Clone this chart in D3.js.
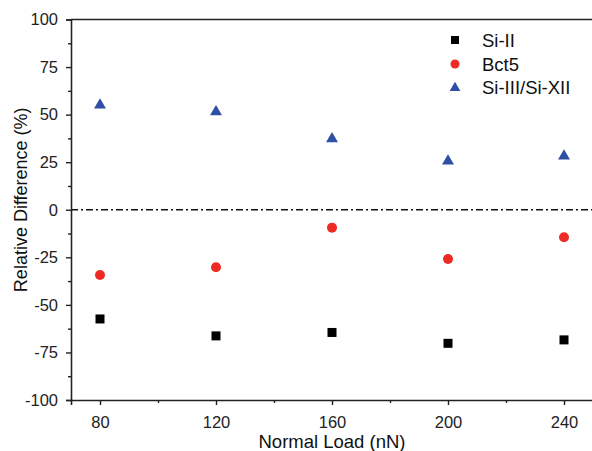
<!DOCTYPE html>
<html><head><meta charset="utf-8">
<script src="https://cdn.jsdelivr.net/npm/d3@7"></script>
<style>body{margin:0;background:#fff;}svg{display:block;font-family:"Liberation Sans",Arial,sans-serif;}</style>
</head><body>
<svg id="c" width="592" height="451"></svg>
<script>
const loads = [80, 120, 160, 200, 240];
const siII = [-57.4, -66.3, -64.5, -70.2, -68.4];
const bct5 = [-34.3, -30.2, -9.4, -25.9, -14.5];
const siIII = [55.5, 52.0, 37.8, 26.1, 28.7];
const xTicks = [80, 120, 160, 200, 240];
const yTicks = [-100, -75, -50, -25, 0, 25, 50, 75, 100];
const seriesNames = ["Si-II", "Bct5", "Si-III/Si-XII"];

const svg = d3.select("#c");
const x = d3.scaleLinear().domain([70, 250]).range([71, 593]);
const y = d3.scaleLinear().domain([-100, 100]).range([400, 19.5]);
const axisColor = "#222";
const fmt = (d) => String(d);

// zero line
svg.append("line").attr("x1", x(70)).attr("x2", x(250)).attr("y1", y(0)).attr("y2", y(0))
  .attr("stroke", "#111").attr("stroke-width", 1.4).attr("stroke-dasharray", "7,3,2,3");

// x axis
svg.append("g").attr("transform", `translate(0,${y(-100)})`)
  .call(d3.axisBottom(x).tickValues(xTicks).tickSize(5).tickPadding(11).tickFormat(fmt));
svg.append("g").attr("transform", `translate(0,${y(-100)})`)
  .call(d3.axisBottom(x).tickValues([100, 140, 180, 220]).tickSize(3).tickFormat(""))
  .select(".domain").remove();
// top line
svg.append("line").attr("x1", x(70)).attr("x2", x(250)).attr("y1", y(100)).attr("y2", y(100))
  .attr("stroke", axisColor).attr("stroke-width", 1.6);

// y axis
svg.append("g").attr("transform", `translate(${x(70)},0)`)
  .call(d3.axisLeft(y).tickValues(yTicks).tickSize(5).tickPadding(8).tickFormat(fmt));
svg.append("g").attr("transform", `translate(${x(70)},0)`)
  .call(d3.axisLeft(y).tickValues(d3.range(-87.5, 100, 25)).tickSize(3).tickFormat(""))
  .select(".domain").remove();

svg.selectAll(".domain").attr("stroke", axisColor).attr("stroke-width", 1.6);
svg.selectAll(".tick line").attr("stroke", axisColor).attr("stroke-width", 1.4);
svg.selectAll(".tick text").attr("font-size", 16.5).attr("fill", "#222")
  .attr("font-family", "'Liberation Sans',Arial,sans-serif");

// titles
svg.append("text").attr("x", x(160)).attr("y", 448).attr("text-anchor", "middle")
  .attr("font-size", 18.5).attr("fill", "#111").text("Normal Load (nN)");
svg.append("text").attr("transform", `translate(27,${y(0) - 10}) rotate(-90)`).attr("text-anchor", "middle")
  .attr("font-size", 18).attr("fill", "#111").text("Relative Difference (%)");

// markers
const tri = d3.symbol().type(d3.symbolTriangle).size(62);
svg.append("g").selectAll("rect").data(loads).join("rect")
  .attr("x", (d) => x(d) - 4.5).attr("y", (d, i) => y(siII[i]) - 4.5)
  .attr("width", 9).attr("height", 9).attr("fill", "#000");
svg.append("g").selectAll("circle").data(loads).join("circle")
  .attr("cx", (d) => x(d)).attr("cy", (d, i) => y(bct5[i])).attr("r", 5).attr("fill", "#ee2a24");
svg.append("g").selectAll("path").data(loads).join("path")
  .attr("d", tri).attr("transform", (d, i) => `translate(${x(d)},${y(siIII[i]) + 1})`).attr("fill", "#2f4fa5");

// legend
const lg = svg.append("g");
const ly = [40, 64, 87];
lg.append("rect").attr("x", 455 - 4).attr("y", ly[0] - 4).attr("width", 8).attr("height", 8).attr("fill", "#000");
lg.append("circle").attr("cx", 455).attr("cy", ly[1]).attr("r", 4.5).attr("fill", "#ee2a24");
lg.append("path").attr("d", d3.symbol().type(d3.symbolTriangle).size(50))
  .attr("transform", `translate(455,${ly[2] + 1})`).attr("fill", "#2f4fa5");
seriesNames.forEach((s, i) => {
  lg.append("text").attr("x", 482).attr("y", ly[i] + 6.5).attr("font-size", 18.5).attr("fill", "#111").text(s);
});
</script>
</body></html>
